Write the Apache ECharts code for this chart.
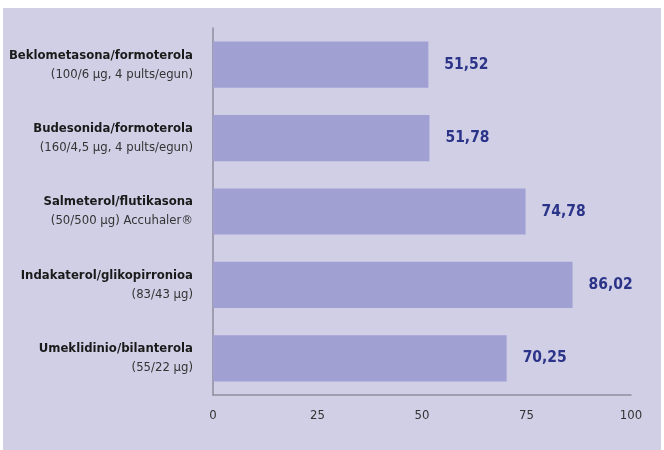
<!DOCTYPE html>
<html>
<head>
<meta charset="utf-8">
<script src="https://cdn.jsdelivr.net/npm/echarts@6/dist/echarts.min.js"></script>
<style>
  html, body { margin: 0; padding: 0; background: #fff; }
  #chart { width: 664px; height: 450px; }
</style>
</head>
<body>
<div id="chart"></div>
<script>
// datuak
var izenak = [
    "Beklometasona/formoterola",
    "Budesonida/formoterola",
    "Salmeterol/flutikasona",
    "Indakaterol/glikopirronioa",
    "Umeklidinio/bilanterola"
];
var dosiak = [
    "(100/6 µg, 4 pults/egun)",
    "(160/4,5 µg, 4 pults/egun)",
    "(50/500 µg) Accuhaler®",
    "(83/43 µg)",
    "(55/22 µg)"
];
var balioak = [51.52, 51.78, 74.78, 86.02, 70.25];
var tickak = [0, 25, 50, 75, 100];

var narrow = "'Liberation Sans Narrow', 'DejaVu Sans Condensed', sans-serif";

(function() {
    var myChart = echarts.init(document.getElementById("chart"));

    var option = {
        animation: false,
        graphic: [
            {
                type: "rect",
                z: -10,
                shape: { x: 3, y: 8, width: 658, height: 442 },
                style: { fill: "#d1cfe6" }
            }
        ],
        grid: {
            left: 213,
            right: 33,
            top: 28,
            bottom: 55,
            containLabel: false,
            outerBoundsMode: "none"
        },
        xAxis: {
            type: "value",
            min: tickak[0],
            max: tickak[tickak.length - 1],
            interval: 25,
            splitLine: { show: false },
            axisTick: { show: false },
            axisLine: {
                show: true,
                lineStyle: { color: "#8e8e9c", width: 1.5 }
            },
            axisLabel: {
                color: "#333",
                fontFamily: narrow,
                fontSize: 13,
                margin: 14
            }
        },
        yAxis: {
            type: "category",
            inverse: true,
            data: izenak,
            axisTick: { show: false },
            axisLine: {
                show: true,
                lineStyle: { color: "#8e8e9c", width: 1.5 }
            },
            axisLabel: {
                margin: 20,
                align: "right",
                formatter: function(value, i) {
                    return "{a|" + value + "}\n{b|" + dosiak[i] + "}";
                },
                rich: {
                    a: {
                        fontFamily: narrow,
                        fontWeight: "bold",
                        fontSize: 13,
                        color: "#1a1a1a",
                        lineHeight: 19,
                        align: "right"
                    },
                    b: {
                        fontFamily: narrow,
                        fontSize: 13,
                        color: "#333",
                        lineHeight: 19,
                        align: "right"
                    }
                }
            }
        },
        series: [
            {
                type: "bar",
                data: balioak,
                barCategoryGap: "37%",
                itemStyle: { color: "#a1a0d3" },
                label: {
                    show: true,
                    position: "right",
                    distance: 16,
                    color: "#2b3488",
                    fontFamily: narrow,
                    fontWeight: "bold",
                    fontSize: 15.5,
                    formatter: function(p) {
                        return p.value.toFixed(2).replace(".", ",");
                    }
                }
            }
        ]
    };

    myChart.setOption(option);
    window.addEventListener("resize", function() {
        myChart.resize();
    });
})();
</script>
</body>
</html>
